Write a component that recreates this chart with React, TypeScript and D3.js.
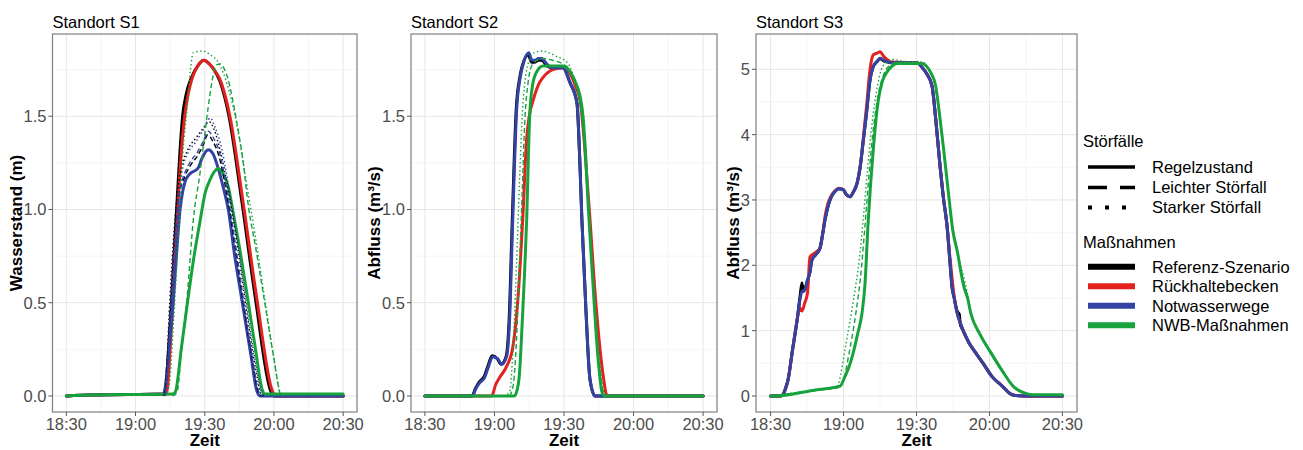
import React from "react";
import * as d3 from "d3";

type Pt = [number, number]; // [minutes after 18:30, value]

// ---------- axis / label data ----------
const timeTickMinutes = [0, 30, 60, 90, 120];
const timeTickLabels = ["18:30", "19:00", "19:30", "20:00", "20:30"];
const timeMinorMinutes = [15, 45, 75, 105];

const s12Ticks = [0, 0.5, 1.0, 1.5];
const s12TickLabels = ["0.0", "0.5", "1.0", "1.5"];
const s12Minor = [0.25, 0.75, 1.25, 1.75];
const s3Ticks = [0, 1, 2, 3, 4, 5];
const s3TickLabels = ["0", "1", "2", "3", "4", "5"];
const s3Minor = [0.5, 1.5, 2.5, 3.5, 4.5];

const panelTitles = ["Standort S1", "Standort S2", "Standort S3"];
const yTitles = ["Wasserstand (m)", "Abfluss (m³/s)", "Abfluss (m³/s)"];
const xTitle = "Zeit";

const incidentTitle = "Störfälle";
const incidents = ["Regelzustand", "Leichter Störfall", "Starker Störfall"];
const measureTitle = "Maßnahmen";
const measures = ["Referenz-Szenario", "Rückhaltebecken", "Notwasserwege", "NWB-Maßnahmen"];
const measureColors = ["#000000", "#e3211f", "#3343a3", "#17a23c"];

// ---------- Standort S1 (Wasserstand) ----------
const s1RefSolid: Pt[] = [[0,0],[10,0.005],[42,0.01],[43,0.04],[44.3,0.25],[45.6,0.5],[46.8,0.78],[47.8,1.0],[49.2,1.3],[50.4,1.5],[52,1.62],[54,1.7],[57,1.77],[59.5,1.8],[62,1.78],[64,1.75],[66.5,1.69],[70.5,1.5],[76,1.05],[82,0.52],[88.5,0.03],[90,0],[120,0]];
const s1RefDashed: Pt[] = [[42.4,0],[43.1,0.05],[45,0.45],[47,0.85],[49,1.08],[51.5,1.18],[54,1.24],[57,1.29],[59.5,1.35],[61.3,1.4],[63.3,1.37],[66.3,1.28],[69,1.12],[72,0.9],[76,0.56],[80,0.24],[83.3,0.02],[84.3,0]];
const s1RefDotted: Pt[] = [[42.2,0],[43,0.05],[44.8,0.5],[46.8,0.9],[48.8,1.15],[51,1.27],[53,1.33],[56,1.38],[59,1.43],[62,1.47],[64,1.43],[67,1.3],[70,1.12],[74,0.82],[78,0.47],[82,0.15],[84.5,0.01],[85.5,0]];
const s1RetSolid: Pt[] = [[0,0],[10,0.005],[43,0.01],[43.8,0.04],[45,0.25],[46.2,0.5],[47.3,0.75],[48.3,1.0],[49.8,1.3],[51.3,1.5],[53,1.63],[55,1.72],[57.5,1.78],[59.8,1.8],[62,1.78],[64,1.75],[66.5,1.7],[70.9,1.5],[76.5,1.05],[82.6,0.52],[89.2,0.03],[90.5,0],[120,0]];
const s1EmwSolid: Pt[] = [[0,0],[10,0.005],[42,0.01],[42.8,0.04],[44.5,0.25],[46.3,0.5],[48,0.8],[49.3,1.0],[50.5,1.1],[51.5,1.15],[53.5,1.19],[57,1.22],[59,1.28],[61.5,1.32],[63.5,1.3],[65.6,1.23],[68,1.12],[70.2,1.0],[73,0.75],[76.3,0.5],[80,0.22],[82.5,0.03],[84,0],[120,0]];
const s1EmwDashed: Pt[] = [[42.6,0],[43.3,0.05],[45.2,0.45],[47.2,0.85],[49.2,1.1],[51.5,1.2],[54,1.26],[57,1.31],[59.5,1.37],[61.5,1.42],[63.5,1.39],[66.5,1.3],[69,1.15],[72,0.92],[76,0.58],[80,0.25],[83.5,0.02],[84.5,0]];
const s1EmwDotted: Pt[] = [[42.5,0],[43.2,0.05],[45,0.45],[47,0.85],[49,1.12],[51,1.25],[53,1.31],[56,1.36],[59,1.42],[62.4,1.49],[64.5,1.44],[67.5,1.32],[70,1.15],[74,0.85],[78,0.5],[82,0.18],[85,0.01],[86,0]];
const s1NwbSolid: Pt[] = [[0,0],[10,0.005],[46,0.01],[47.2,0.02],[50,0.27],[52.5,0.5],[55,0.72],[58,0.94],[60.2,1.09],[62.3,1.16],[64,1.2],[65.9,1.22],[68,1.19],[70.2,1.12],[72.4,0.98],[75,0.8],[78.9,0.5],[82,0.25],[85,0.03],[86,0.01],[120,0.01]];
const s1NwbDashed: Pt[] = [[46,0],[48,0.02],[50,0.25],[52.5,0.55],[55,0.94],[58,1.2],[59.7,1.37],[61.5,1.55],[63.2,1.69],[64.6,1.77],[66.7,1.78],[69.8,1.71],[74,1.46],[76.7,1.25],[79,1.01],[82,0.8],[86,0.5],[90,0.2],[92.8,0.01],[94,0]];
const s1NwbDotted: Pt[] = [[43,0],[44.5,0.05],[46.5,0.4],[48.5,0.85],[50.5,1.3],[52.4,1.55],[53.8,1.75],[55,1.84],[59,1.85],[62.4,1.83],[65.8,1.79],[70,1.66],[74,1.45],[78,1.15],[82,0.85],[86,0.52],[90,0.2],[93,0.01],[94,0]];

// ---------- Standort S2 (Abfluss) ----------
const s2RefSolid: Pt[] = [[0,0],[20.3,0],[21.8,0.04],[23.4,0.075],[25.6,0.105],[27.3,0.165],[29,0.215],[31.2,0.2],[32.9,0.17],[35,0.21],[36.3,0.4],[37.7,0.95],[39.4,1.54],[40.8,1.7],[42,1.77],[44.6,1.83],[46,1.79],[47.2,1.79],[49,1.8],[50.4,1.8],[52.6,1.77],[54.5,1.76],[59.5,1.76],[62.6,1.68],[65.6,1.57],[66.7,1.3],[67.7,0.95],[69.5,0.45],[71.2,0.09],[73.4,0],[120,0]];
const s2RetSolid: Pt[] = [[0,0],[28.8,0],[30.5,0.06],[32.3,0.1],[35.3,0.16],[37.9,0.26],[40,0.5],[42.2,0.95],[43.9,1.38],[45,1.5],[46.8,1.59],[49,1.67],[51.1,1.71],[55.2,1.75],[59.5,1.76],[62.6,1.73],[65,1.66],[67,1.58],[68.5,1.4],[70,1.15],[71.2,0.95],[73,0.62],[75,0.32],[77,0.1],[78.6,0],[120,0]];
const s2EmwSolid: Pt[] = [[0,0],[20.5,0],[22,0.04],[23.6,0.07],[25.8,0.1],[27.5,0.16],[29.2,0.21],[31.4,0.2],[33.1,0.17],[35.2,0.21],[36.5,0.4],[37.9,0.95],[39.6,1.54],[41,1.7],[42.2,1.77],[44.8,1.84],[46.2,1.8],[47.4,1.8],[49,1.81],[50.4,1.81],[52.6,1.78],[54.5,1.76],[59.5,1.76],[62.6,1.68],[65.6,1.57],[66.7,1.3],[67.7,0.95],[69.5,0.45],[71.2,0.09],[73.4,0],[120,0]];
const s2NwbSolid: Pt[] = [[0,0],[38.5,0],[39.5,0.02],[40.8,0.12],[42,0.4],[43.9,0.95],[45.2,1.5],[46.5,1.67],[48.3,1.74],[50.9,1.77],[59.5,1.77],[62.6,1.74],[65,1.68],[66.9,1.61],[68.2,1.5],[69.3,1.3],[70.3,1.05],[71.5,0.8],[73,0.5],[74.7,0.2],[76.4,0.02],[77.5,0],[120,0]];
const s2NwbDashed: Pt[] = [[36.5,0],[38,0.05],[39.5,0.3],[40.8,0.7],[42,1.1],[43,1.45],[44.5,1.68],[46.5,1.78],[50.5,1.81],[55,1.8],[59.5,1.78],[63,1.74],[66,1.63],[68,1.45],[69.5,1.2],[71,0.9],[73,0.55],[75,0.22],[77,0.02],[78,0]];
const s2NwbDotted: Pt[] = [[34,0],[36.5,0.02],[38,0.25],[39.5,0.7],[40.8,1.15],[42.2,1.55],[43.5,1.72],[45,1.8],[47,1.84],[50.4,1.85],[53.5,1.84],[56.9,1.82],[61.3,1.79],[64,1.72],[66.5,1.6],[68.2,1.45],[69.7,1.2],[71,0.9],[73,0.55],[75,0.22],[77,0.03],[78,0]];

// ---------- Standort S3 (Abfluss) ----------
const s3RefSolid: Pt[] = [[0,0],[4,0],[5.1,0.02],[6,0.1],[7.2,0.25],[9,0.7],[10.9,1.16],[12.2,1.55],[12.9,1.73],[13.4,1.6],[14,1.62],[15,1.75],[16.2,1.9],[17,2.08],[18.5,2.16],[20.3,2.26],[21.5,2.5],[22.4,2.7],[23.6,2.9],[25,3.05],[26.5,3.13],[28,3.17],[29.8,3.16],[31.2,3.08],[32.7,3.05],[34,3.12],[35.6,3.26],[37,3.55],[38,3.87],[39.5,4.35],[40.9,4.84],[42,5.02],[43.8,5.12],[45,5.16],[46.5,5.13],[48.3,5.11],[50,5.1],[60.2,5.1],[62.5,5.02],[64.4,4.92],[66.4,4.74],[68,4.2],[69.7,3.51],[71,3.05],[72.6,2.59],[73.8,2.03],[74.6,1.67],[75.5,1.5],[76.7,1.3],[77.6,1.25],[78,1.1],[79.2,1.0],[81.5,0.82],[84,0.68],[87.4,0.5],[91,0.3],[95.6,0.14],[98,0.05],[100,0.01],[104,0],[120,0]];
const s3RetSolid: Pt[] = [[0,0],[4,0],[5.1,0.02],[6,0.1],[7.2,0.25],[9,0.7],[10.9,1.16],[12,1.35],[12.9,1.3],[14,1.42],[15.2,1.58],[16.2,2.13],[18.2,2.19],[20.3,2.26],[21.5,2.5],[22.4,2.75],[23.6,2.95],[25,3.07],[26.5,3.14],[28,3.18],[29.8,3.16],[31.2,3.08],[32.7,3.05],[34,3.12],[35.6,3.26],[37,3.55],[38,3.9],[39.5,4.45],[40.9,5.0],[42.2,5.22],[44,5.25],[45,5.27],[46.5,5.2],[48.3,5.14],[50,5.11],[60.2,5.1],[62.5,5.02],[64.4,4.92],[66.4,4.74],[68,4.2],[69.7,3.51],[71,3.05],[72.6,2.59],[73.8,2.1],[74.6,1.81],[75.5,1.52],[76.7,1.27],[78,1.12],[79.2,1.0],[81.5,0.82],[84,0.68],[87.4,0.5],[91,0.3],[95.6,0.14],[98,0.05],[100,0.01],[104,0],[120,0]];
const s3EmwSolid: Pt[] = [[0,0],[4,0],[5.1,0.02],[6,0.1],[7.2,0.25],[9,0.7],[10.9,1.16],[12.2,1.5],[12.9,1.6],[14,1.62],[15,1.75],[16.2,1.9],[17,2.08],[18.5,2.16],[20.3,2.26],[21.5,2.5],[22.4,2.7],[23.6,2.9],[25,3.05],[26.5,3.13],[28,3.17],[29.8,3.16],[31.2,3.08],[32.7,3.05],[34,3.12],[35.6,3.26],[37,3.55],[38,3.87],[39.5,4.35],[40.9,4.84],[42,5.02],[43.8,5.12],[45,5.17],[46.5,5.14],[48.3,5.11],[50,5.1],[60.2,5.1],[62.5,5.02],[64.4,4.92],[66.4,4.74],[68,4.2],[69.7,3.51],[71,3.05],[72.6,2.59],[73.8,2.03],[74.6,1.67],[75.5,1.5],[76.7,1.27],[78,1.12],[79.2,1.0],[81.5,0.82],[84,0.68],[87.4,0.5],[91,0.3],[95.6,0.14],[98,0.05],[100,0.01],[104,0],[120,0]];
const s3NwbSolid: Pt[] = [[0,0],[4,0],[6,0.01],[9.2,0.03],[12,0.05],[15,0.07],[20,0.1],[24.4,0.12],[28.6,0.15],[30.6,0.3],[32.3,0.45],[33.9,0.65],[35.8,0.95],[37.6,1.27],[38.8,1.7],[40.1,2.65],[42.2,3.76],[44.3,4.53],[46,4.82],[47.9,4.96],[50,5.05],[52.1,5.09],[62.5,5.09],[64,5.05],[65.7,4.96],[67.9,4.74],[69.5,4.3],[71.2,3.76],[73,3.15],[74.9,2.54],[76.9,2.19],[78.5,1.85],[79.5,1.67],[81,1.5],[82.3,1.27],[86,0.95],[90.6,0.66],[95,0.4],[100,0.14],[104,0.05],[108,0.02],[120,0.02]];
const s3NwbDashed: Pt[] = [[0,0],[15,0.07],[24,0.11],[28.6,0.14],[30,0.25],[32.5,0.7],[35,1.25],[37.2,1.9],[38.8,2.6],[40.5,3.4],[42,4.0],[44,4.55],[46.5,4.92],[49,5.06],[52,5.1],[62.5,5.1],[64,5.06],[65.7,4.97],[67.9,4.75],[69.5,4.31],[71.2,3.77],[73,3.17],[74.9,2.56],[76.9,2.2],[78.5,1.88],[79.5,1.72],[81,1.52],[82.3,1.28],[86,0.96],[90.6,0.67],[95,0.41],[100,0.15],[104,0.05],[108,0.02],[120,0.02]];
const s3NwbDotted: Pt[] = [[0,0],[15,0.07],[24,0.11],[27.2,0.13],[28,0.2],[31,0.8],[34,1.45],[36.5,2.1],[38.2,2.75],[39.8,3.45],[41.5,4.1],[43.5,4.65],[46.2,5.05],[50.3,5.15],[55,5.12],[62.5,5.11],[64,5.06],[65.7,4.97],[67.9,4.76],[69.5,4.32],[71.2,3.78],[73,3.18],[74.9,2.58],[76.9,2.2],[78.5,1.95],[79.5,1.82],[81,1.55],[82.3,1.3],[86,0.98],[90.6,0.68],[95,0.42],[100,0.15],[104,0.05],[108,0.02],[120,0.02]];

type Series = { m: number; inc: number; data: Pt[] };

const s1Series: Series[] = [
  { m: 0, inc: 0, data: s1RefSolid },
  { m: 1, inc: 0, data: s1RetSolid },
  { m: 2, inc: 0, data: s1EmwSolid },
  { m: 3, inc: 0, data: s1NwbSolid },
  { m: 0, inc: 1, data: s1RefDashed },
  { m: 0, inc: 2, data: s1RefDotted },
  { m: 2, inc: 1, data: s1EmwDashed },
  { m: 2, inc: 2, data: s1EmwDotted },
  { m: 3, inc: 1, data: s1NwbDashed },
  { m: 3, inc: 2, data: s1NwbDotted },
];
const s2Series: Series[] = [
  { m: 0, inc: 0, data: s2RefSolid },
  { m: 1, inc: 0, data: s2RetSolid },
  { m: 2, inc: 0, data: s2EmwSolid },
  { m: 3, inc: 0, data: s2NwbSolid },
  { m: 3, inc: 1, data: s2NwbDashed },
  { m: 3, inc: 2, data: s2NwbDotted },
];
const s3Series: Series[] = [
  { m: 0, inc: 0, data: s3RefSolid },
  { m: 1, inc: 0, data: s3RetSolid },
  { m: 2, inc: 0, data: s3EmwSolid },
  { m: 3, inc: 0, data: s3NwbSolid },
  { m: 3, inc: 1, data: s3NwbDashed },
  { m: 3, inc: 2, data: s3NwbDotted },
];

// ---------- layout ----------
const FONT = "'Liberation Sans', Arial, Helvetica, sans-serif";
const TOP = 34;
const BOTTOM = 412;

type PanelCfg = {
  left: number; right: number; yDomain: [number, number];
  ticks: number[]; tickLabels: string[]; minor: number[]; yTitleX: number;
  series: Series[];
};

const panels: PanelCfg[] = [
  { left: 52.5, right: 357, yDomain: [-0.086, 1.941], ticks: s12Ticks, tickLabels: s12TickLabels, minor: s12Minor, yTitleX: 22, series: s1Series },
  { left: 411, right: 717, yDomain: [-0.086, 1.941], ticks: s12Ticks, tickLabels: s12TickLabels, minor: s12Minor, yTitleX: 380, series: s2Series },
  { left: 756, right: 1077, yDomain: [-0.245, 5.54], ticks: s3Ticks, tickLabels: s3TickLabels, minor: s3Minor, yTitleX: 739, series: s3Series },
];

const dashFor = (inc: number) => (inc === 0 ? undefined : inc === 1 ? "5 3" : "1.5 2.5");

function Panel({ cfg, idx }: { cfg: PanelCfg; idx: number }) {
  const x = d3.scaleLinear().domain([-6, 126]).range([cfg.left, cfg.right]);
  const y = d3.scaleLinear().domain(cfg.yDomain).range([BOTTOM, TOP]);
  const line = d3.line<Pt>().x((d) => x(d[0])).y((d) => y(d[1])).curve(d3.curveMonotoneX);
  const clipId = `clip${idx}`;
  const solids = cfg.series.filter((s) => s.inc === 0);
  const thins = cfg.series.filter((s) => s.inc !== 0);
  const cx = (cfg.left + cfg.right) / 2;
  return (
    <g>
      <defs>
        <clipPath id={clipId}>
          <rect x={cfg.left} y={TOP} width={cfg.right - cfg.left} height={BOTTOM - TOP} />
        </clipPath>
      </defs>
      <rect x={cfg.left} y={TOP} width={cfg.right - cfg.left} height={BOTTOM - TOP} fill="#fff" />
      {cfg.minor.map((v) => (
        <line key={"ym" + v} x1={cfg.left} x2={cfg.right} y1={y(v)} y2={y(v)} stroke="#f2f2f2" strokeWidth={0.8} />
      ))}
      {timeMinorMinutes.map((v) => (
        <line key={"xm" + v} x1={x(v)} x2={x(v)} y1={TOP} y2={BOTTOM} stroke="#f2f2f2" strokeWidth={0.8} />
      ))}
      {cfg.ticks.map((v) => (
        <line key={"yM" + v} x1={cfg.left} x2={cfg.right} y1={y(v)} y2={y(v)} stroke="#e6e6e6" strokeWidth={1} />
      ))}
      {timeTickMinutes.map((v) => (
        <line key={"xM" + v} x1={x(v)} x2={x(v)} y1={TOP} y2={BOTTOM} stroke="#e6e6e6" strokeWidth={1} />
      ))}
      <g clipPath={`url(#${clipId})`}>
        {solids.map((s, i) => (
          <path key={"s" + i} d={line(s.data) || ""} fill="none" stroke={measureColors[s.m]} strokeWidth={3} strokeLinejoin="round" strokeLinecap="round" />
        ))}
        {thins.map((s, i) => (
          <path key={"t" + i} d={line(s.data) || ""} fill="none" stroke={measureColors[s.m]} strokeWidth={1.4} strokeDasharray={dashFor(s.inc)} />
        ))}
      </g>
      <rect x={cfg.left} y={TOP} width={cfg.right - cfg.left} height={BOTTOM - TOP} fill="none" stroke="#7f7f7f" strokeWidth={1.2} />
      {timeTickMinutes.map((v, i) => (
        <g key={"xt" + v}>
          <line x1={x(v)} x2={x(v)} y1={BOTTOM} y2={BOTTOM + 4} stroke="#555" strokeWidth={1} />
          <text x={x(v)} y={430} textAnchor="middle" fontSize={16.5} fill="#4d4d4d" fontFamily={FONT}>{timeTickLabels[i]}</text>
        </g>
      ))}
      {cfg.ticks.map((v, i) => (
        <g key={"yt" + v}>
          <line x1={cfg.left - 4} x2={cfg.left} y1={y(v)} y2={y(v)} stroke="#555" strokeWidth={1} />
          <text x={cfg.left - 6} y={y(v)} dy="0.36em" textAnchor="end" fontSize={16.5} fill="#4d4d4d" fontFamily={FONT}>{cfg.tickLabels[i]}</text>
        </g>
      ))}
      <text x={cfg.left} y={28} fontSize={16.5} fill="#000" fontFamily={FONT}>{panelTitles[idx]}</text>
      <text x={cx} y={446} textAnchor="middle" fontSize={17} fontWeight="bold" fill="#000" fontFamily={FONT}>{xTitle}</text>
      <text transform={`translate(${cfg.yTitleX},${(TOP + BOTTOM) / 2}) rotate(-90)`} textAnchor="middle" fontSize={17} fontWeight="bold" fill="#000" fontFamily={FONT}>{yTitles[idx]}</text>
    </g>
  );
}

function Legend() {
  const kx1 = 1088, kx2 = 1135, tx = 1152;
  const incRows = [167, 187.5, 207.5];
  const mRows = [266.7, 286.2, 305.7, 325.2];
  const incDash = [undefined, "19 13", "4 13"];
  return (
    <g fontFamily={FONT} fontSize={16.5} fill="#000">
      <text x={1083} y={141} dy="0.36em">{incidentTitle}</text>
      {incidents.map((t, i) => (
        <g key={t}>
          <line x1={kx1} x2={kx2} y1={incRows[i]} y2={incRows[i]} stroke="#000" strokeWidth={i === 2 ? 4 : 3.5} strokeDasharray={incDash[i]} />
          <text x={tx} y={incRows[i]} dy="0.36em">{t}</text>
        </g>
      ))}
      <text x={1083} y={242} dy="0.36em">{measureTitle}</text>
      {measures.map((t, i) => (
        <g key={t}>
          <line x1={kx1} x2={kx2} y1={mRows[i]} y2={mRows[i]} stroke={measureColors[i]} strokeWidth={6} />
          <text x={tx} y={mRows[i]} dy="0.36em">{t}</text>
        </g>
      ))}
    </g>
  );
}

export default function App() {
  return (
    <svg width={1303} height={450} style={{ position: "absolute", left: 0, top: 0, display: "block", background: "#fff" }}>
      <rect x={0} y={0} width={1303} height={450} fill="#fff" />
      {panels.map((p, i) => (
        <Panel key={i} cfg={p} idx={i} />
      ))}
      <Legend />
    </svg>
  );
}
